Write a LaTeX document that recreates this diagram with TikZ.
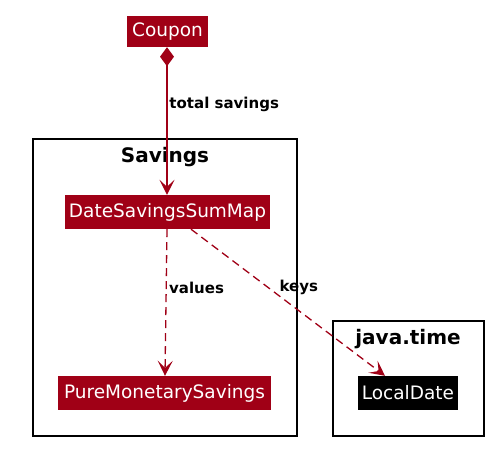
\documentclass[tikz,border=0pt]{standalone}
\usepackage{fontspec}
\setmainfont{DejaVu Sans}
\usetikzlibrary{arrows.meta,positioning}
\definecolor{umlred}{RGB}{160,0,22}

\begin{document}
\begin{tikzpicture}[x=1pt,y=-1pt,
  cls/.style={fill=umlred, text=white, font=\fontsize{18.5}{20}\selectfont, inner sep=0pt, minimum height=34pt},
  pkg/.style={draw=black, line width=1.5pt},
  pkgtitle/.style={font=\bfseries\fontsize{20}{22}\selectfont},
  lbl/.style={font=\bfseries\fontsize{15}{17}\selectfont, text=black, anchor=west},
  link/.style={color=umlred, line width=1.3pt, arrows={-Stealth[length=15pt, width=15pt, inset=7pt]}},
  comp/.style={color=umlred, line width=1.3pt, arrows={Diamond[length=19pt, width=14pt]-Stealth[length=15pt, width=15pt, inset=7pt]}},
  dep/.style={link, dash pattern=on 8pt off 5pt}]
\useasboundingbox (0,0) rectangle (498,451);
% packages
\draw [pkg] (33,139) rectangle (297,436);
\node [pkgtitle] (savingsttl) at (165,157) {Savings};
\draw [pkg] (333,321) rectangle (484,436);
\node [pkgtitle] (javattl) at (408,339) {java.time};
% classes
\node [cls, minimum width=81pt, minimum height=31pt] (coupon) at (167.5,31.5) {Coupon};
\node [cls, minimum width=205pt] (dssm) at (167.5,212) {DateSavingsSumMap};
\node [cls, minimum width=213pt] (pms) at (164.5,393) {PureMonetarySavings};
\node [cls, fill=black, minimum width=100pt] (localdate) at (408,393) {LocalDate};
% links
\draw [comp] ([xshift=-0.5pt]coupon.south) -- node [lbl, pos=0.385, xshift=-1.5pt] {total savings} ([xshift=-0.5pt]dssm.north);
\draw [dep] ([xshift=-0.5pt]dssm.south) -- node [lbl, pos=0.4, xshift=-1pt] {values} ([xshift=0.5pt]pms.north);
\draw [dep] ([xshift=23.5pt]dssm.south) -- node [lbl, pos=0.4, xshift=7pt] {keys} ([xshift=-23pt]localdate.north);
\end{tikzpicture}
\end{document}
